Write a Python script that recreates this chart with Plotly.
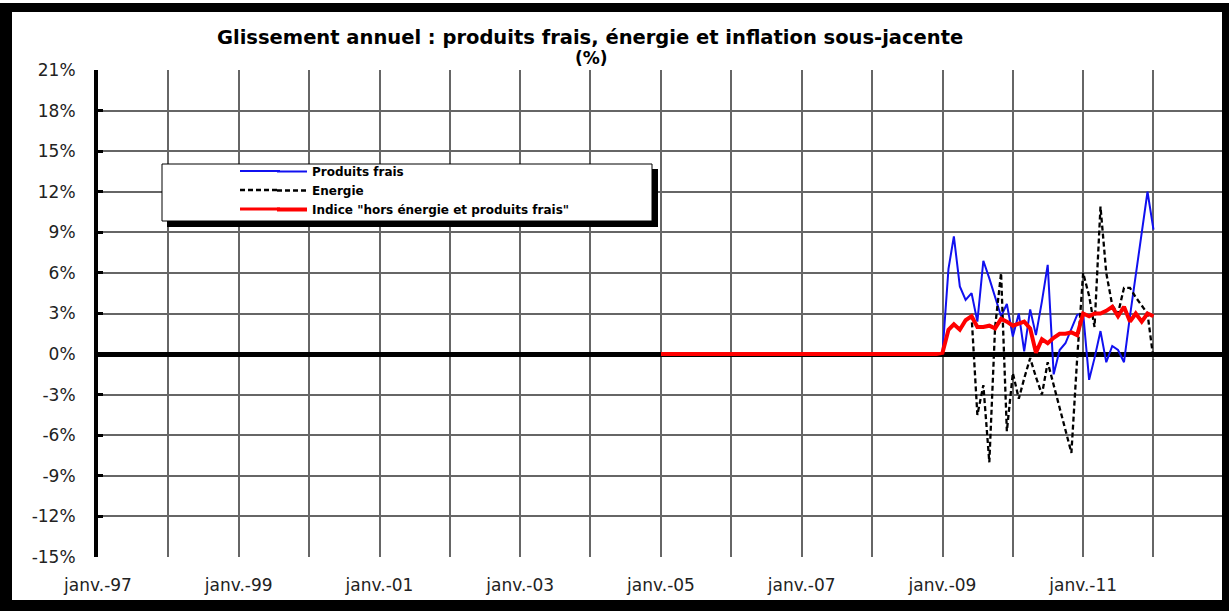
import plotly.graph_objects as go
import pandas as pd

# ---------------- data ----------------
months_all = pd.date_range("2005-01-01", "2012-01-01", freq="MS")   # core index (red) from janv.-05
months_recent = pd.date_range("2009-01-01", "2012-01-01", freq="MS")  # fresh food & energy

produits_frais = [
    0.1, 6.3, 8.7, 5.0, 4.0, 4.5, 2.4, 6.9, 5.6, 4.2, 2.8, 3.7,      # 2009
    1.3, 3.0, 0.2, 3.3, 1.4, 3.9, 6.6, -1.5, 0.3, 0.8, 1.8, 2.9,     # 2010
    3.0, -1.9, -0.3, 1.7, -0.6, 0.6, 0.3, -0.6, 2.8, 5.9, 9.2, 12.0,  # 2011
    9.2,                                                              # 2012
]
energie = [
    0.1, 1.8, 2.2, 1.8, 2.5, 2.8, -4.5, -2.3, -8.0, 2.0, 6.0, -5.7,   # 2009
    -1.4, -3.3, -1.8, -0.3, -1.7, -3.0, -0.6, -2.3, -4.0, -5.7, -7.3, -0.3,  # 2010
    6.0, 4.3, 2.0, 10.9, 6.0, 3.6, 3.0, 4.9, 4.9, 4.2, 3.6, 3.0,      # 2011
    -0.4,                                                             # 2012
]
sous_jacente = [
    0.0, 0.0, 0.0, 0.0, 0.0, 0.0, 0.0, 0.0, 0.0, 0.0, 0.0, 0.0,      # 2005
    0.0, 0.0, 0.0, 0.0, 0.0, 0.0, 0.0, 0.0, 0.0, 0.0, 0.0, 0.0,      # 2006
    0.0, 0.0, 0.0, 0.0, 0.0, 0.0, 0.0, 0.0, 0.0, 0.0, 0.0, 0.0,      # 2007
    0.0, 0.0, 0.0, 0.0, 0.0, 0.0, 0.0, 0.0, 0.0, 0.0, 0.0, 0.0,      # 2008
    0.1, 1.8, 2.2, 1.8, 2.5, 2.8, 2.0, 2.0, 2.1, 1.9, 2.6, 2.4,      # 2009
    2.1, 2.3, 2.4, 1.9, 0.1, 1.1, 0.8, 1.2, 1.5, 1.5, 1.6, 1.4,      # 2010
    3.0, 2.8, 3.0, 3.0, 3.2, 3.5, 2.8, 3.5, 2.4, 3.0, 2.4, 3.0,      # 2011
    2.8,                                                             # 2012
]

series_names = ["Produits frais", "Energie", "Indice \"hors énergie et produits frais\""]
series_colors = ["#1010F0", "#000000", "#FF0000"]

x_tick_dates = [f"{y}-01-01" for y in range(1997, 2014)]
x_tick_labels = ["janv.-97", "", "janv.-99", "", "janv.-01", "", "janv.-03", "",
                 "janv.-05", "", "janv.-07", "", "janv.-09", "", "janv.-11", "", ""]
y_tick_values = [21, 18, 15, 12, 9, 6, 3, 0, -3, -6, -9, -12, -15]
y_tick_labels = ["21%", "18%", "15%", "12%", "9%", "6%", "3%", "0%",
                 "-3%", "-6%", "-9%", "-12%", "-15%"]

title_text = "Glissement annuel : produits frais, énergie et inflation sous-jacente"
subtitle_text = "(%)"

# ---------------- layout geometry ----------------
W, H = 1229, 611
ML, MR, MT, MB = 98, 5, 70, 54
PW, PH = W - ML - MR, H - MT - MB


def px(xp):
    return (xp - ML) / PW


def py(yp):
    return (H - MB - yp) / PH


FONT = "DejaVu Sans"

fig = go.Figure()
fig.add_trace(go.Scatter(x=months_recent, y=produits_frais, name=series_names[0], mode="lines",
                         line=dict(color=series_colors[0], width=2)))
fig.add_trace(go.Scatter(x=months_recent, y=energie, name=series_names[1], mode="lines",
                         line=dict(color=series_colors[1], width=2.3, dash="5px,3px")))
fig.add_trace(go.Scatter(x=months_all, y=sous_jacente, name=series_names[2], mode="lines",
                         line=dict(color=series_colors[2], width=4)))

grid = "#666666"

fig.update_xaxes(
    type="date", range=["1997-01-01", "2013-01-01"],
    tickmode="array", tickvals=x_tick_dates, ticktext=x_tick_labels,
    showgrid=True, gridcolor=grid, gridwidth=1.5,
    showline=False, zeroline=False, ticks="",
    tickfont=dict(family=FONT, size=17, color="#222"),
    ticklabelstandoff=16,
)
fig.update_yaxes(
    range=[-15, 21], tickmode="array", tickvals=y_tick_values, ticktext=y_tick_labels,
    showgrid=True, gridcolor=grid, gridwidth=1.5,
    zeroline=True, zerolinecolor="black", zerolinewidth=5,
    showline=True, linecolor="black", linewidth=4,
    ticks="inside", ticklen=5, tickwidth=3, tickcolor="black",
    tickfont=dict(family=FONT, size=17, color="#222"),
    ticklabelstandoff=15,
)

shapes = []
# legend box with shadow
shapes.append(dict(type="rect", xref="paper", yref="paper", x0=px(167), x1=px(658), y0=py(227), y1=py(169),
                   fillcolor="black", line=dict(width=0), layer="above"))
shapes.append(dict(type="rect", xref="paper", yref="paper", x0=px(162), x1=px(652), y0=py(221), y1=py(164),
                   fillcolor="white", line=dict(color="black", width=1), layer="above"))
# longer legend line samples (extend the legend's own short samples to the left)
legend_rows = [171, 190, 209]
legend_dash = ["solid", "5px,3px", "solid"]
legend_w = [2, 2.3, 3]
for i, yy in enumerate(legend_rows):
    shapes.append(dict(type="line", xref="paper", yref="paper", x0=px(240), x1=px(280 if i != 1 else 277),
                       y0=py(yy), y1=py(yy), layer="above",
                       line=dict(color=series_colors[i], width=legend_w[i], dash=legend_dash[i])))
# outer black frame
for (x0, y0, x1, y1) in [(0, 3, W, 12), (0, 600, W, H), (0, 3, 12, H), (1222, 3, W, H)]:
    shapes.append(dict(type="rect", xref="paper", yref="paper", x0=px(x0), x1=px(x1), y0=py(y1), y1=py(y0),
                       fillcolor="black", line=dict(width=0), layer="above"))

annotations = [
    dict(text=title_text, x=px(590), y=py(38), xref="paper", yref="paper", showarrow=False,
         xanchor="center", yanchor="middle", font=dict(family=FONT, size=19.5, color="black", weight="bold")),
    dict(text=subtitle_text, x=px(591), y=py(58), xref="paper", yref="paper", showarrow=False,
         xanchor="center", yanchor="middle", font=dict(family=FONT, size=17, color="black", weight="bold")),
]

fig.update_layout(
    width=W, height=H, margin=dict(l=ML, r=MR, t=MT, b=MB),
    paper_bgcolor="white", plot_bgcolor="white",
    shapes=shapes, annotations=annotations,
    showlegend=True,
    legend=dict(x=px(272), y=py(157), xanchor="left", yanchor="top",
                bgcolor="rgba(0,0,0,0)", borderwidth=0,
                font=dict(family=FONT, size=12, color="black", weight="bold"),
                tracegroupgap=0),
)

fig.write_html("out.html", config={"displayModeBar": False},
               post_script="document.body.style.margin='0';document.body.style.overflow='hidden';")
